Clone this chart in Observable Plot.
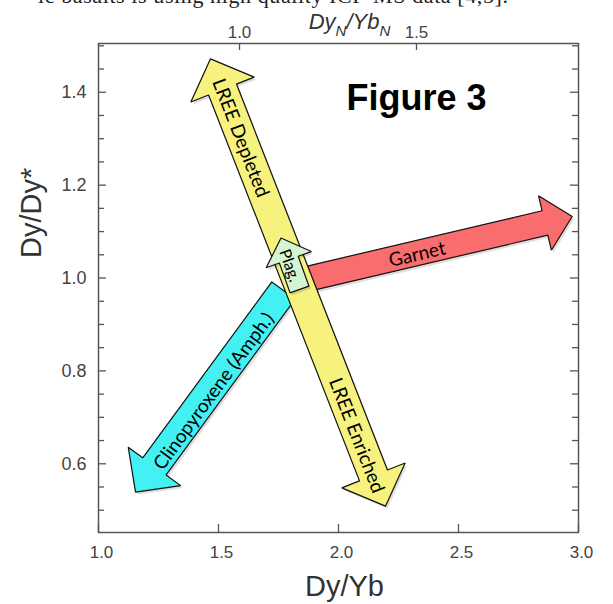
<!DOCTYPE html>
<html>
<head>
<meta charset="utf-8">
<script src="https://cdn.jsdelivr.net/npm/d3@7"></script>
<script src="https://cdn.jsdelivr.net/npm/@observablehq/plot@0.6"></script>
<style>
html,body{margin:0;padding:0;background:#fff;}
#wrap{position:relative;width:613px;height:604px;overflow:hidden;background:#fff;}
#chart{position:absolute;left:0;top:0;}
#cut{position:absolute;left:38px;top:-17px;white-space:nowrap;font-family:"Liberation Serif",serif;font-size:22px;color:#222;letter-spacing:0.6px;}
</style>
</head>
<body>
<div id="wrap"><div id="chart"></div><div id="cut">ic basalts is using high quality ICP-MS data [4,5].</div></div>
<script>
// ---- data ----
const xTicks = [1.0, 1.5, 2.0, 2.5, 3.0];
const yMajorTicks = [0.6, 0.8, 1.0, 1.2, 1.4];
const yMinorTicks = [0.5, 0.55, 0.65, 0.7, 0.75, 0.85, 0.9, 0.95, 1.05, 1.1, 1.15, 1.25, 1.3, 1.35, 1.45, 1.5];
const topTickPos = [1.5875, 2.325];          // Dy/Yb positions of DyN/YbN ticks
const topTickLabels = ["1.0", "1.5"];

const arrowNames = ["Garnet", "Clinopyroxene", "LREE", "Plag"];
const arrowX1 = [1.8417, 1.7708, 1.4667, 1.8375];
const arrowY1 = [0.9946, 0.9731, 1.4720, 0.9752];
const arrowX2 = [2.9738, 1.1542, 2.1958, 1.7604];
const arrowY2 = [1.1324, 0.5388, 0.5087, 1.0861];

const labelText = ["Garnet", "Clinopyroxene (Amph.)", "LREE Depleted", "LREE Enriched", "Plag."];
const labelArrow = [0, 1, 2, 2, 3];
const labelX = [2.328, 1.4804, 1.5917, 2.075, 1.7958];
const labelY = [1.0506, 0.756, 1.3015, 0.661, 1.0269];

// ---- layout / style ----
const W = 613, H = 604, mL = 98, mR = 35, mT = 43, mB = 72;
const xDomain = [1, 3], yDomain = [0.452, 1.505];
const arrowStyle = [
  {fill: "#fa6d6f", shaft: 25, head: 56, headLen: 28, double: false},
  {fill: "#43f1f2", shaft: 29, head: 65, headLen: 32, double: false},
  {fill: "#f6f27d", shaft: 30, head: 68, headLen: 33, double: true},
  {fill: "#d3f5d3", shaft: 20, head: 48, headLen: 23, double: false}
];
const labelSize = [19, 19, 19, 19, 16];
const axisFont = "Liberation Sans, Arial, Helvetica, sans-serif";
const arrowFont = "Lato, 'Open Sans', sans-serif";

const sx = Plot.scale({x: {domain: xDomain, range: [mL, W - mR]}});
const sy = Plot.scale({y: {domain: yDomain, range: [H - mB, mT]}});

function arrowPolygon(i) {
  const s = arrowStyle[i];
  const S = [sx.apply(arrowX1[i]), sy.apply(arrowY1[i])];
  const E = [sx.apply(arrowX2[i]), sy.apply(arrowY2[i])];
  const dx = E[0] - S[0], dy = E[1] - S[1], L = Math.hypot(dx, dy);
  const u = [dx / L, dy / L], n = [-u[1], u[0]];
  const P = (b, a, sd) => [b[0] + u[0] * a + n[0] * sd, b[1] + u[1] * a + n[1] * sd];
  const w = s.shaft / 2, h = s.head / 2, hl = s.headLen;
  let pts;
  if (s.double) {
    pts = [S, P(S, hl, h), P(S, hl, w), P(E, -hl, w), P(E, -hl, h), E,
           P(E, -hl, -h), P(E, -hl, -w), P(S, hl, -w), P(S, hl, -h), S];
  } else {
    pts = [P(S, 0, w), P(E, -hl, w), P(E, -hl, h), E, P(E, -hl, -h),
           P(E, -hl, -w), P(S, 0, -w), P(S, 0, w)];
  }
  return pts.map(([px, py]) => ({x: sx.invert(px), y: sy.invert(py)}));
}
function arrowAngle(i) {
  const dx = sx.apply(arrowX2[i]) - sx.apply(arrowX1[i]);
  const dy = sy.apply(arrowY2[i]) - sy.apply(arrowY1[i]);
  let a = Math.atan2(dy, dx) * 180 / Math.PI;
  if (a > 90) a -= 180;
  if (a <= -90) a += 180;
  return a;
}

const arrowMarks = [];
arrowNames.forEach((name, i) => {
  const poly = arrowPolygon(i);
  arrowMarks.push(Plot.line(poly, {x: "x", y: "y", fill: "#000", fillOpacity: 0.13, stroke: "none", dx: 2, dy: 2.5, curve: "linear"}));
  arrowMarks.push(Plot.line(poly, {x: "x", y: "y", fill: arrowStyle[i].fill, stroke: "#111", strokeWidth: 1.2, strokeLinejoin: "miter", curve: "linear"}));
});
const labelMarks = labelText.map((t, j) => Plot.text([t], {
  x: () => labelX[j], y: () => labelY[j], text: d => d,
  rotate: arrowAngle(labelArrow[j]), fontSize: labelSize[j], fontFamily: arrowFont,
  fill: "#000", lineAnchor: "middle", textAnchor: "middle"
}));

const plot = Plot.plot({
  width: W, height: H,
  marginLeft: mL, marginRight: mR, marginTop: mT, marginBottom: mB,
  x: {domain: xDomain, axis: null},
  y: {domain: yDomain, axis: null},
  style: {background: "transparent"},
  marks: [
    ...arrowMarks,
    ...labelMarks,
    Plot.frame({stroke: "#555", strokeWidth: 1.5}),
    // bottom ticks (inward)
    Plot.tickX(xTicks, {x: d => d, stroke: "#555", strokeWidth: 1.3, insetTop: H - mT - mB - 8}),
    // top ticks (DyN/YbN)
    Plot.tickX(topTickPos, {x: d => d, stroke: "#555", strokeWidth: 1.3, insetBottom: H - mT - mB - 7}),
    // left & right ticks
    Plot.tickY(yMajorTicks, {y: d => d, stroke: "#555", strokeWidth: 1.3, insetRight: W - mL - mR - 8}),
    Plot.tickY(yMinorTicks, {y: d => d, stroke: "#555", strokeWidth: 1.3, insetRight: W - mL - mR - 6}),
    Plot.tickY(yMajorTicks, {y: d => d, stroke: "#555", strokeWidth: 1.3, insetLeft: W - mL - mR - 8}),
    Plot.tickY(yMinorTicks, {y: d => d, stroke: "#555", strokeWidth: 1.3, insetLeft: W - mL - mR - 6}),
    // tick labels
    Plot.text(xTicks, {x: d => d, text: d => d.toFixed(1), frameAnchor: "bottom", lineAnchor: "bottom", dy: 25, dx: 3, fontSize: 17, fontFamily: axisFont, fill: "#444"}),
    Plot.text(yMajorTicks, {y: d => d, text: d => d.toFixed(1), frameAnchor: "left", textAnchor: "end", dx: -12, fontSize: 18, fontFamily: axisFont, fill: "#444"}),
    Plot.text(topTickPos, {x: d => d, text: (d, i) => topTickLabels[i], frameAnchor: "top", lineAnchor: "bottom", dy: -6, fontSize: 17, fontFamily: axisFont, fill: "#444"}),
    // axis titles
    Plot.text(["Dy/Yb"], {text: d => d, frameAnchor: "bottom", lineAnchor: "bottom", dy: 63, dx: 6, fontSize: 29, fontFamily: axisFont, fill: "#333"}),
    Plot.text(["Dy/Dy*"], {text: d => d, frameAnchor: "left", rotate: -90, lineAnchor: "middle", dx: -67, dy: -30, fontSize: 29, fontFamily: axisFont, fill: "#333"}),
    Plot.text(["DyN/YbN"], {text: d => d, frameAnchor: "top", lineAnchor: "bottom", dy: -15, dx: 11, fontSize: 22, fontStyle: "italic", fontFamily: axisFont, fill: "#333"}),
    // figure label
    Plot.text(["Figure 3"], {x: () => 2.325, y: () => 1.3865, text: d => d, lineAnchor: "middle", fontSize: 36, fontWeight: "bold", fontFamily: axisFont, fill: "#000"})
  ]
});

// subscripts for DyN/YbN
d3.select(plot).selectAll("text").filter(function () { return this.textContent === "DyN/YbN"; })
  .each(function () {
    const t = d3.select(this);
    t.text(null);
    t.append("tspan").text("Dy");
    t.append("tspan").attr("dy", 7).attr("font-size", 15).text("N");
    t.append("tspan").attr("dy", -7).text("/Yb");
    t.append("tspan").attr("dy", 7).attr("font-size", 15).text("N");
  });

document.getElementById("chart").appendChild(plot);
</script>
</body>
</html>
